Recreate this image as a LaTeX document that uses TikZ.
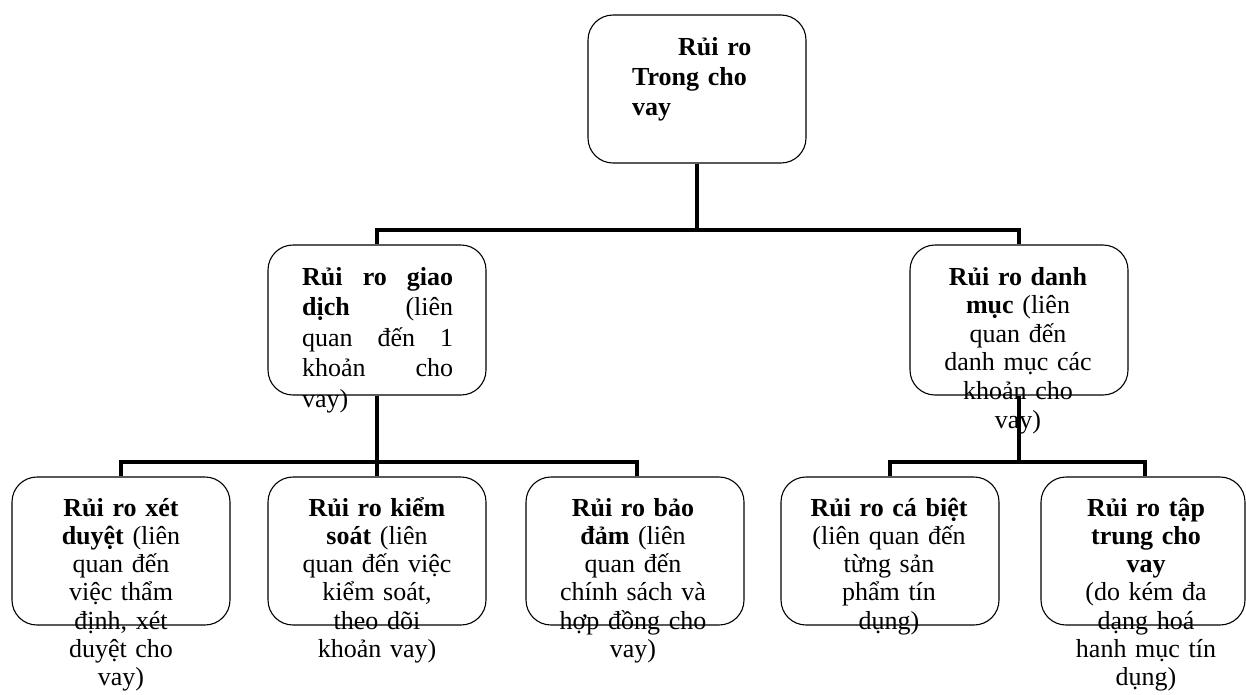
\documentclass[tikz,border=0pt]{standalone}
\usepackage{fontspec}
\setmainfont{Liberation Serif}
\usetikzlibrary{positioning}
\tikzset{
	box/.style={rectangle, draw, rounded corners=25pt, line width=1.1pt, minimum width=218pt, minimum height=148pt},
	txt/.style={inner sep=0pt, text width=200pt, align=center, font=\fontsize{26}{28.3}\selectfont},
	link/.style={line width=3.5pt}
}

\begin{document}
\begin{tikzpicture}[x=1pt, y=-1pt]
	\useasboundingbox (0,0) rectangle (1246,694);

	% boxes
	\node[box, minimum height=148pt] (top) at (697,89) {};
	\node[box, minimum height=150pt] (ml) at (377,320) {};
	\node[box, minimum height=150pt] (mr) at (1019,320) {};
	\node[box] (b1) at (121,551) {};
	\node[box] (b2) at (377,551) {};
	\node[box] (b3) at (635,551) {};
	\node[box] (b4) at (890,551) {};
	\node[box, minimum width=204pt] (b5) at (1143,551) {};

	% texts
	\node[txt, anchor=base west, text width=130pt, align=left, font=\fontsize{26}{30}\selectfont\bfseries] (ttop) at (632,55)
		{\hspace*{46pt}Rủi ro\\Trong cho\\vay};
	\node[txt, anchor=base west, text width=151pt, align=left, font=\fontsize{26}{30.5}\selectfont] (tml) at (302,285)
		{\textbf{Rủi\hfill ro\hfill giao}\\\textbf{dịch}\hfill(liên\\quan\hfill đến\hfill 1\\khoản\hfill cho\\vay)};
	\node[txt, anchor=base, font=\fontsize{26}{28.6}\selectfont] (tmr) at (1018,285)
		{\textbf{Rủi ro danh}\\\textbf{mục} (liên\\quan đến\\danh mục các\\khoản cho\\vay)};
	\node[txt, anchor=base] (tb1) at (121,516)
		{\textbf{Rủi ro xét}\\\textbf{duyệt} (liên\\quan đến\\việc thẩm\\định, xét\\duyệt cho\\vay)};
	\node[txt, anchor=base] (tb2) at (377,516)
		{\textbf{Rủi ro kiểm}\\\textbf{soát} (liên\\quan đến việc\\kiểm soát,\\theo dõi\\khoản vay)};
	\node[txt, anchor=base] (tb3) at (633,516)
		{\textbf{Rủi ro bảo}\\\textbf{đảm} (liên\\quan đến\\chính sách và\\hợp đồng cho\\vay)};
	\node[txt, anchor=base] (tb4) at (889,516)
		{\textbf{Rủi ro cá biệt}\\(liên quan đến\\từng sản\\phẩm tín\\dụng)};
	\node[txt, anchor=base] (tb5) at (1146,516)
		{\textbf{Rủi ro tập}\\\textbf{trung cho}\\\textbf{vay}\\(do kém đa\\dạng hoá\\hanh mục tín\\dụng)};

	% connectors
	\coordinate (busA) at (697,230);
	\coordinate (busB) at (377,462);
	\coordinate (busC) at (1019,462);
	\draw[link] (top.south) -- (busA);
	\draw[link] (ml.north) |- (busA);
	\draw[link] (mr.north) |- (busA);
	\draw[link] (ml.south) -- (busB);
	\draw[link] (b1.north) |- (busB);
	\draw[link] (b2.north) -- (busB);
	\draw[link] ([xshift=2pt]b3.north) |- (busB);
	\draw[link] (mr.south) -- (busC);
	\draw[link] (b4.north) |- (busC);
	\draw[link] ([xshift=2pt]b5.north) |- (busC);
\end{tikzpicture}
\end{document}
